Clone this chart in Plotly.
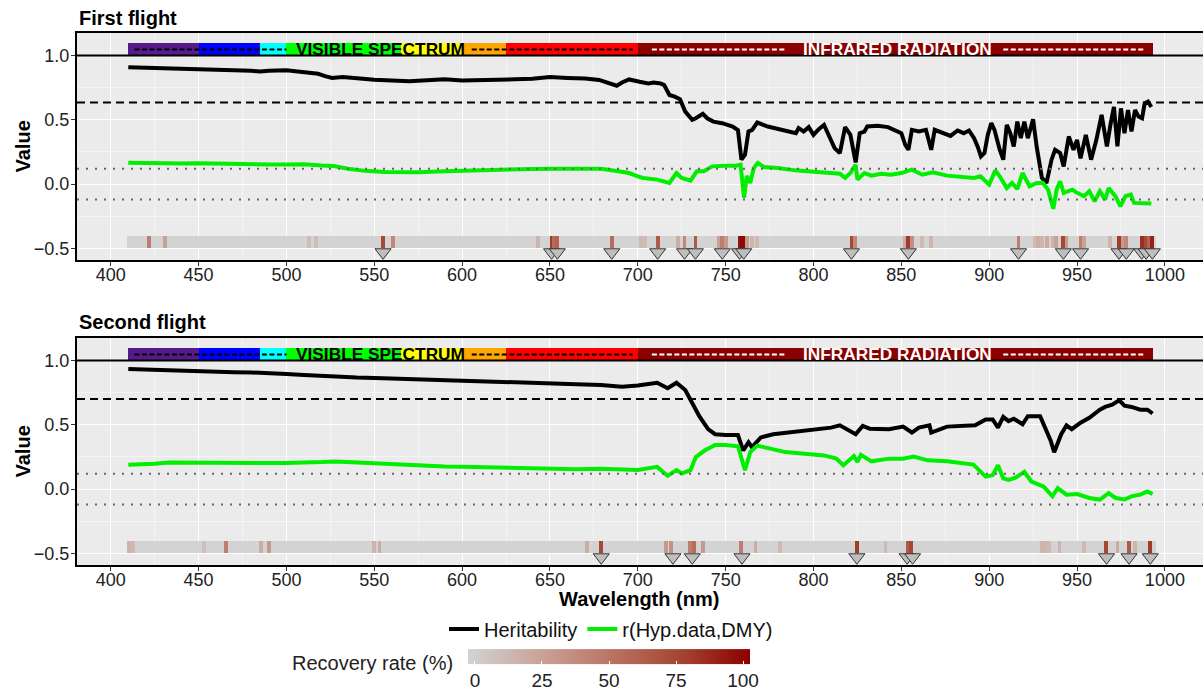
import plotly.graph_objects as go
from plotly.subplots import make_subplots

FONT = "Liberation Sans, Arial, sans-serif"

# ---------------- data ----------------
# First flight: heritability
wl_h_f1 = [410, 420, 430, 440, 450, 460, 470, 480, 485, 490, 500, 510, 518, 522, 526, 532, 540, 550, 560, 570,
           580, 590, 600, 610, 620, 630, 640, 650, 660, 670, 678, 683, 688, 691, 695, 701, 706, 709, 713, 715,
           718, 721, 724, 727, 731, 733, 737, 739.5, 743, 748, 754, 757, 759, 761, 763, 765, 768, 774, 780, 786,
           790, 791.5, 794.4, 797.3, 800, 803, 806, 809, 812, 815, 818, 821, 824, 826.3, 829, 830.6, 836.5, 842.4,
           846.3, 850, 852.2, 854, 856, 860, 864, 867, 869, 874, 878, 882, 885.5, 888.5, 891.4, 893.4, 895.3,
           897.3, 899.2, 901.2, 903, 906, 908, 910, 912, 914, 916, 918, 920, 922, 925, 927, 930, 932.6, 935.5,
           937.5, 940.4, 942.4, 945.3, 948, 950, 952, 955, 958, 961, 964, 967, 969, 971, 973, 975, 977, 979, 981,
           983, 985, 987, 988.5, 990.4, 992.3]
her_f1 = [0.908, 0.905, 0.895, 0.893, 0.890, 0.888, 0.885, 0.882, 0.875, 0.882, 0.885, 0.870, 0.858, 0.840, 0.826,
          0.832, 0.820, 0.812, 0.805, 0.800, 0.808, 0.816, 0.806, 0.807, 0.812, 0.815, 0.820, 0.832, 0.826, 0.822,
          0.810, 0.790, 0.765, 0.790, 0.814, 0.796, 0.783, 0.790, 0.783, 0.770, 0.693, 0.680, 0.660, 0.564, 0.500,
          0.512, 0.546, 0.512, 0.486, 0.474, 0.448, 0.420, 0.190, 0.228, 0.409, 0.420, 0.479, 0.448, 0.427, 0.409,
          0.396, 0.435, 0.409, 0.443, 0.383, 0.427, 0.460, 0.370, 0.280, 0.241, 0.443, 0.383, 0.169, 0.396, 0.409,
          0.448, 0.453, 0.443, 0.417, 0.396, 0.306, 0.267, 0.422, 0.409, 0.422, 0.267, 0.422, 0.396, 0.375, 0.417,
          0.396, 0.417, 0.357, 0.293, 0.215, 0.241, 0.383, 0.474, 0.422, 0.267, 0.190, 0.461, 0.396, 0.293, 0.486,
          0.357, 0.486, 0.357, 0.505, 0.293, 0.048, 0.009, 0.190, 0.267, 0.241, 0.138, 0.370, 0.267, 0.344, 0.200,
          0.383, 0.190, 0.344, 0.538, 0.293, 0.461, 0.600, 0.293, 0.589, 0.396, 0.576, 0.409, 0.576, 0.525, 0.512,
          0.628, 0.641, 0.600]

# First flight: correlation with DMY
wl_r_f1 = [410, 420, 430, 440, 450, 460, 470, 480, 490, 500, 510, 520, 527, 535, 545, 556, 566, 575, 590, 600,
           610, 621, 630, 640, 653, 665, 679, 689, 695, 700, 703, 711, 715, 718, 722, 725, 730, 733.6, 737.5,
           742.4, 750, 756, 758.5, 760.5, 762, 764, 766, 768.3, 771.8, 779.7, 789.5, 799.3, 809, 815, 818, 821,
           824, 825, 829, 833, 838.5, 844, 850, 856, 862, 868, 876, 883.6, 891.4, 895, 900, 903.5, 906, 910, 913,
           916, 919, 923, 927, 930.6, 933.5, 936.5, 938.4, 940.4, 942.4, 947.3, 950, 954, 957, 960, 963, 966, 968,
           971.8, 974.7, 977.6, 980.6, 982.5, 987.4, 992.3]
cor_f1 = [0.167, 0.163, 0.165, 0.160, 0.162, 0.158, 0.157, 0.155, 0.153, 0.152, 0.154, 0.145, 0.141, 0.120, 0.103,
          0.095, 0.090, 0.092, 0.100, 0.105, 0.108, 0.115, 0.116, 0.118, 0.120, 0.122, 0.120, 0.100, 0.086, 0.060,
          0.048, 0.035, 0.022, 0.009, 0.086, 0.048, 0.027, 0.100, 0.100, 0.138, 0.143, 0.143, 0.151, -0.107, 0.063,
          0.009, 0.125, 0.164, 0.133, 0.125, 0.107, 0.100, 0.086, 0.081, 0.048, 0.086, 0.151, 0.035, 0.086, 0.066,
          0.081, 0.073, 0.086, 0.112, 0.073, 0.092, 0.066, 0.055, 0.048, 0.061, -0.004, 0.107, 0.061, -0.030, 0.009,
          -0.038, 0.086, -0.017, 0.009, 0.009, -0.043, -0.192, -0.043, 0.022, -0.068, -0.043, -0.068, -0.094,
          -0.056, -0.133, -0.056, -0.120, -0.030, -0.094, -0.172, -0.094, -0.081, -0.146, -0.146, -0.151]

# Second flight: heritability
wl_h_f2 = [410, 420, 430, 440, 450, 460, 470, 480, 489, 500, 510, 518, 530, 540, 555, 565, 575, 590, 600, 610,
           621, 630, 640, 653, 665, 679, 691, 700, 711, 717, 722, 727, 731, 735, 740, 744, 750, 757, 760, 763,
           765, 770, 777, 788, 801, 810, 815, 821, 824, 828, 832, 843, 851, 856, 860, 866, 867, 876, 887, 892,
           898, 902, 905, 908, 911, 914, 919, 922, 929, 932, 935, 937, 941, 944, 947, 952, 957, 963, 966, 970,
           974, 977, 981, 986, 990, 993]
her_f2 = [0.933, 0.928, 0.922, 0.918, 0.915, 0.912, 0.909, 0.907, 0.905, 0.895, 0.888, 0.881, 0.872, 0.868, 0.863,
          0.858, 0.855, 0.850, 0.847, 0.842, 0.837, 0.832, 0.826, 0.819, 0.815, 0.810, 0.796, 0.805, 0.827, 0.784,
          0.827, 0.771, 0.669, 0.567, 0.466, 0.427, 0.420, 0.420, 0.300, 0.364, 0.326, 0.402, 0.427, 0.445, 0.460,
          0.478, 0.496, 0.445, 0.427, 0.491, 0.470, 0.466, 0.486, 0.440, 0.478, 0.496, 0.440, 0.486, 0.491, 0.496,
          0.542, 0.542, 0.478, 0.562, 0.529, 0.547, 0.504, 0.567, 0.567, 0.478, 0.377, 0.287, 0.427, 0.496, 0.466,
          0.517, 0.555, 0.618, 0.639, 0.656, 0.690, 0.649, 0.639, 0.618, 0.618, 0.588]

# Second flight: correlation with DMY
wl_r_f2 = [410, 415, 425, 433, 445, 460, 466, 480, 490, 500, 510, 520, 528, 540, 555, 565, 575, 590, 600, 610,
           621, 630, 640, 653, 665, 679, 691, 700, 711, 717, 722, 725, 730, 733, 738, 744, 750, 757, 761, 764,
           768, 775, 784, 795, 806, 813, 817, 823, 825, 827, 833, 843, 851, 857, 865, 876, 891, 898, 902, 905,
           908, 911, 915, 920, 924, 931, 936, 939, 944, 950, 957, 963, 968, 972, 977, 981, 986, 990, 993]
cor_f2 = [0.189, 0.190, 0.198, 0.207, 0.205, 0.207, 0.207, 0.205, 0.203, 0.204, 0.205, 0.210, 0.215, 0.207, 0.197,
          0.188, 0.180, 0.176, 0.173, 0.170, 0.168, 0.165, 0.162, 0.158, 0.155, 0.158, 0.148, 0.148, 0.173, 0.104,
          0.148, 0.122, 0.148, 0.249, 0.300, 0.343, 0.343, 0.333, 0.148, 0.288, 0.338, 0.313, 0.288, 0.275, 0.262,
          0.237, 0.186, 0.257, 0.211, 0.267, 0.216, 0.237, 0.237, 0.254, 0.224, 0.216, 0.191, 0.097, 0.109, 0.186,
          0.084, 0.071, 0.089, 0.135, 0.059, 0.020, -0.056, 0.008, -0.043, -0.038, -0.069, -0.081, -0.031, -0.069,
          -0.081, -0.056, -0.043, -0.018, -0.038]

h2_threshold = [0.635, 0.70]
r_threshold = 0.12

# Recovery rate (%) of selected wavelengths (grey = 0 elsewhere)
rec_wl_f1 = [421.6, 430.7, 513, 517, 555, 560.5, 643, 650.9, 652.5, 654.2, 685.2, 702, 704, 711.3, 723, 726.6,
             732.8, 746, 748.1, 750, 757.9, 759.1, 760.3, 762, 765, 768, 821.6, 823.5, 852, 854, 856, 862, 866.7,
             916.7, 926, 928, 930, 933, 936, 938, 942.2, 944, 952, 954, 969, 973.9, 976, 978, 986.8, 989.3, 991,
             992.9]
rec_val_f1 = [45, 25, 10, 10, 75, 40, 15, 80, 55, 60, 55, 12, 10, 65, 20, 40, 65, 25, 45, 30, 95, 100, 100, 30,
              15, 12, 75, 40, 20, 80, 35, 12, 15, 45, 12, 18, 15, 20, 15, 25, 75, 30, 45, 25, 15, 80, 30, 40, 85,
              75, 60, 90]
rec_wl_f2 = [410.5, 412.7, 453, 465.5, 485.4, 490, 550, 553, 671, 679.2, 716, 719, 729.6, 731.8, 737, 758.6, 767,
             780.7, 824.6, 841, 853.6, 855.3, 930, 932, 934, 940, 954, 966.4, 973, 979.5, 983, 991.4]
rec_val_f2 = [15, 12, 8, 45, 20, 30, 15, 20, 20, 75, 30, 35, 45, 55, 30, 45, 20, 12, 80, 12, 65, 75, 15, 15, 12,
              15, 12, 75, 20, 65, 15, 80]

# Wavelengths flagged as selected (triangles)
sel_wl_f1 = [555, 650.9, 654.2, 685.2, 711.3, 726.6, 732.8, 748.1, 757.9, 760.3, 821.6, 854, 916.7, 942.2, 952,
             973.9, 978, 986.8, 989.3, 992.9]
sel_wl_f2 = [679.2, 720, 731, 759.3, 824.7, 853.3, 856.4, 966.8, 979.6, 991.7]

band_range = [409, 995]

# Spectrum bands
spec_start = [410, 450, 485, 500, 565, 600, 625, 700]
spec_end = [450, 485, 500, 565, 600, 625, 700, 993]
spec_color = ["#551A8B", "#0000FF", "#00FFFF", "#00FF00", "#FFFF00", "#FFA500", "#FF0000", "#8B0000"]
vis_dash = [[413.5, 500], [605.5, 697]]
ir_dash = [[708, 784], [908, 989]]
vis_label_nm = 553.4
ir_label_nm = 847.6

panel_titles = ["First flight", "Second flight"]

# ---------------- layout helpers ----------------
W, H = 1203, 695
ML, MR, MT, MB = 77, 0, 33, 130
PW = W - ML - MR
PH = H - MT - MB


def pyp(p):
    return (H - MB - p) / PH


def pxp(p):
    return (p - ML) / PW


colorscale = [[0, "#D3D3D3"], [0.25, "#CAA49A"], [0.5, "#BB7565"], [0.75, "#A54632"], [1, "#8B0000"]]

fig = make_subplots(rows=2, cols=1)

series = [
    (wl_h_f1, her_f1, wl_r_f1, cor_f1, rec_wl_f1, rec_val_f1, sel_wl_f1),
    (wl_h_f2, her_f2, wl_r_f2, cor_f2, rec_wl_f2, rec_val_f2, sel_wl_f2),
]

for i, (wh, hv, wr, rv, rw, rval, sw) in enumerate(series):
    row = i + 1
    # grey base of recovery strip
    fig.add_trace(go.Bar(x=[(band_range[0] + band_range[1]) / 2], y=[0.1], base=[-0.5],
                         width=[band_range[1] - band_range[0]],
                         marker=dict(color="#D3D3D3", line_width=0), showlegend=False, hoverinfo="skip"),
                  row=row, col=1)
    # recovery tiles
    fig.add_trace(go.Bar(x=rw, y=[0.1] * len(rw), base=[-0.5] * len(rw), width=[2.2] * len(rw),
                         marker=dict(color=rval, coloraxis="coloraxis", line_width=0),
                         showlegend=False, name="Recovery rate (%)"),
                  row=row, col=1)
    # spectrum bar
    fig.add_trace(go.Bar(x=[(s + e) / 2 for s, e in zip(spec_start, spec_end)],
                         y=[0.1] * len(spec_start), base=[1.0] * len(spec_start),
                         width=[e - s for s, e in zip(spec_start, spec_end)],
                         marker=dict(color=spec_color, line_width=0), showlegend=False, hoverinfo="skip"),
                  row=row, col=1)
    fig.add_trace(go.Scatter(x=wh, y=hv, mode="lines", name="Heritability", legendgroup="h",
                             line=dict(color="black", width=4), showlegend=(row == 1)),
                  row=row, col=1)
    fig.add_trace(go.Scatter(x=wr, y=rv, mode="lines", name="r(Hyp.data,DMY)", legendgroup="r",
                             line=dict(color="#00EE00", width=4), showlegend=(row == 1)),
                  row=row, col=1)
    fig.add_trace(go.Scatter(x=sw, y=[-0.53] * len(sw), mode="markers", showlegend=False,
                             marker=dict(symbol="triangle-down", size=14, color="#BEBEBE",
                                         line=dict(color="#333333", width=1))),
                  row=row, col=1)

    # reference lines
    fig.add_hline(y=1.0, line=dict(color="black", width=2.2), row=row, col=1)
    fig.add_hline(y=h2_threshold[i], line=dict(color="black", width=2, dash="8px,5px"), row=row, col=1)
    fig.add_hline(y=r_threshold, line=dict(color="#666666", width=2, dash="2px,7px"), row=row, col=1)
    fig.add_hline(y=-r_threshold, line=dict(color="#666666", width=2, dash="2px,7px"), row=row, col=1)

    xr = "x" if row == 1 else "x2"
    yr = "y" if row == 1 else "y2"
    for a, b in vis_dash:
        fig.add_shape(type="line", xref=xr, yref=yr, x0=a, x1=b, y0=1.047, y1=1.047,
                      line=dict(color="black", width=2, dash="5px,2.5px"))
    for a, b in ir_dash:
        fig.add_shape(type="line", xref=xr, yref=yr, x0=a, x1=b, y0=1.047, y1=1.047,
                      line=dict(color="white", width=2, dash="5px,2.5px"))
    fig.add_annotation(x=vis_label_nm, y=1.053, xref=xr, yref=yr, text="VISIBLE SPECTRUM", showarrow=False,
                       font=dict(family=FONT, size=17.3, color="black", weight="bold"))
    fig.add_annotation(x=ir_label_nm, y=1.053, xref=xr, yref=yr, text="INFRARED RADIATION", showarrow=False,
                       font=dict(family=FONT, size=17.3, color="white", weight="bold"))

    fig.update_xaxes(row=row, col=1, range=[380.8, 1021.7], tick0=400, dtick=50,
                     showgrid=True, gridcolor="white", gridwidth=1.4,
                     minor=dict(dtick=25, tick0=400, showgrid=True, gridcolor="#F4F4F4", gridwidth=0.7),
                     showline=True, linecolor="black", linewidth=2, mirror=True,
                     ticks="outside", ticklen=4, tickcolor="#333333", tickwidth=1.3,
                     ticklabelstandoff=-7,
                     tickfont=dict(family=FONT, size=18, color="#222222"), zeroline=False)
    fig.update_yaxes(row=row, col=1, range=[-0.59, 1.175], tick0=0, dtick=0.5, tickformat=".1f",
                     showgrid=True, gridcolor="white", gridwidth=1.4,
                     minor=dict(dtick=0.25, tick0=0, showgrid=True, gridcolor="#F4F4F4", gridwidth=0.7),
                     showline=True, linecolor="black", linewidth=2, mirror=False,
                     ticks="outside", ticklen=4, tickcolor="#333333", tickwidth=1.3,
                     ticklabelstandoff=-2,
                     tickfont=dict(family=FONT, size=18, color="#222222"), zeroline=False)

fig.update_layout(yaxis=dict(domain=[pyp(260), 1.0]), yaxis2=dict(domain=[0.0, pyp(338)]))

# Titles and axis labels
fig.add_annotation(x=0, y=pyp(18), xref="paper", yref="paper", xanchor="left", yanchor="middle",
                   text=panel_titles[0], showarrow=False, font=dict(family=FONT, size=20, color="black", weight="bold"))
fig.add_annotation(x=0, y=pyp(322), xref="paper", yref="paper", xanchor="left", yanchor="middle",
                   text=panel_titles[1], showarrow=False, font=dict(family=FONT, size=20, color="black", weight="bold"))
for yc in (pyp((33 + 260) / 2), pyp((338 + 565) / 2)):
    fig.add_annotation(x=pxp(22), y=yc, xref="paper", yref="paper", xanchor="center", yanchor="middle",
                       text="Value", textangle=-90, showarrow=False,
                       font=dict(family=FONT, size=20, color="black", weight="bold"))
fig.add_annotation(x=pxp(639), y=pyp(599), xref="paper", yref="paper", xanchor="center", yanchor="middle",
                   text="Wavelength (nm)", showarrow=False,
                   font=dict(family=FONT, size=20, color="black", weight="bold"))
fig.add_annotation(x=pxp(455), y=pyp(663), xref="paper", yref="paper", xanchor="right", yanchor="middle",
                   text="Recovery rate (%)", showarrow=False,
                   font=dict(family=FONT, size=20, color="#222222"))

fig.update_layout(
    width=W, height=H,
    margin=dict(l=ML, r=MR, t=MT, b=MB),
    paper_bgcolor="white",
    plot_bgcolor="#EBEBEB",
    barmode="overlay",
    bargap=0,
    font=dict(family=FONT, color="#222222"),
    coloraxis=dict(
        colorscale=colorscale, cmin=-2.6, cmax=102.6,
        colorbar=dict(orientation="h", x=pxp(468), xanchor="left", y=pyp(672), yanchor="middle",
                      len=282, lenmode="pixels", thickness=15, outlinewidth=0,
                      tickvals=[0, 25, 50, 75, 100], ticks="inside", ticklen=3, tickcolor="white",
                      tickfont=dict(family=FONT, size=19, color="#222222"), xpad=0, ypad=0),
    ),
    legend=dict(orientation="h", x=pxp(611), xanchor="center", y=pyp(629), yanchor="middle",
                font=dict(family=FONT, size=20, color="#111111"), itemwidth=30,
                bgcolor="rgba(0,0,0,0)", tracegroupgap=0),
    hovermode=False,
)

fig.write_html("out.html")
